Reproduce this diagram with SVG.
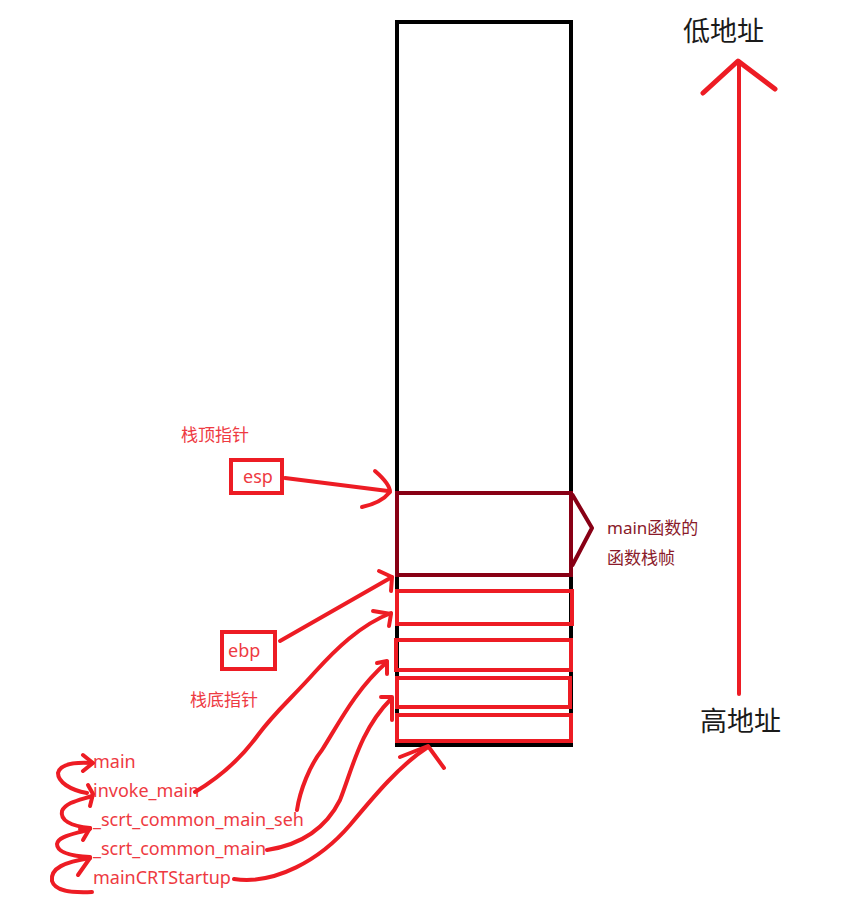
<svg xmlns="http://www.w3.org/2000/svg" width="861" height="904" viewBox="0 0 861 904">
<style>
.red{fill:none;stroke:#ed1c24;stroke-width:4;stroke-linecap:round;stroke-linejoin:round}
.rt{font-family:"Noto Sans","Noto Sans CJK SC",sans-serif;fill:#ee3a42}
.dt{font-family:"Noto Sans","Noto Sans CJK SC",sans-serif;fill:#8a1a2a;font-size:17px}
.bt{font-family:"Noto Sans CJK SC","Noto Sans",sans-serif;fill:#1a1a1a;font-size:27px}
</style>
<rect width="861" height="904" fill="#fff"/>
<g id="stack">
<rect x="397" y="22" width="174" height="723" fill="none" stroke="#000" stroke-width="4"/>
</g>
<g id="main-frame">
<rect x="397" y="493" width="174" height="82" fill="none" stroke="#880015" stroke-width="4"/>
<path d="M572,494 L592,528 L572,566" fill="none" stroke="#880015" stroke-width="4" stroke-linejoin="round"/>
<text class="dt" x="607" y="534">main函数的</text>
<text class="dt" x="607" y="564">函数栈帧</text>
</g>
<g id="frames">
<rect x="397" y="591" width="175" height="33" fill="none" stroke="#ed1c24" stroke-width="4"/>
<rect x="396" y="640" width="175" height="30" fill="none" stroke="#ed1c24" stroke-width="4"/>
<rect x="397" y="678" width="173" height="29" fill="none" stroke="#ed1c24" stroke-width="4"/>
<rect x="397" y="715" width="174" height="26" fill="none" stroke="#ed1c24" stroke-width="4"/>
</g>
<g id="esp">
<text class="rt" x="181" y="441" font-size="17">栈顶指针</text>
<rect x="231" y="460" width="51" height="33" fill="none" stroke="#ed1c24" stroke-width="4"/>
<text class="rt" x="243" y="483" font-size="18">esp</text>
</g>
<g id="ebp">
<rect x="222" y="632" width="53" height="37" fill="none" stroke="#ed1c24" stroke-width="4"/>
<text class="rt" x="228" y="657" font-size="18">ebp</text>
<text class="rt" x="190" y="706" font-size="17">栈底指针</text>
</g>
<g id="functions" class="rt" font-size="18">
<text x="93" y="768">main</text>
<text x="93" y="797">invoke_main</text>
<text x="93" y="826">_scrt_common_main_seh</text>
<text x="93" y="855">_scrt_common_main</text>
<text x="93" y="884">mainCRTStartup</text>
</g>
<g id="address">
<text class="bt" x="683" y="41">低地址</text>
<text class="bt" x="700" y="731">高地址</text>
</g>
<g id="connectors">
<path class="red" d="M739,694 L739,62"/>
<path class="red" style="stroke-width:5" d="M703,93 L738,61 L775,89"/>
<path class="red" d="M285,478 L388,491"/>
<path class="red" d="M375,471 Q390,484 390,492 Q381,503 362,507"/>
<path class="red" d="M280,641 L392,577"/>
<path class="red" d="M379,571 L392,577 L391,591"/>
<path class="red" d="M195,792 C215,780 240,760 258,735 C275,712 290,700 315,672 C335,650 360,625 391,613"/>
<path class="red" d="M373,611 L391,614 L389,626"/>
<path class="red" d="M297,810 C300,790 310,765 322,750 C338,725 355,690 387,662"/>
<path class="red" d="M377,663 L387,661 L387,674"/>
<path class="red" d="M267,850 C300,845 325,830 340,800 C352,770 360,730 391,699"/>
<path class="red" d="M381,697 L392,697 L392,720"/>
<path class="red" d="M234,879 C275,885 320,860 350,825 C375,795 400,765 428,747"/>
<path class="red" d="M400,757 L428,746 L444,768"/>
<path class="red" d="M87,793 C70,790 58,782 58,773 C60,764 75,762 92,763"/>
<path class="red" d="M83,755 L93,763 L83,771"/>
<path class="red" d="M90,828 C70,826 60,820 62,811 C66,802 80,800 92,796"/>
<path class="red" d="M88,785 L93,794 L90,806"/>
<path class="red" d="M90,857 C70,856 57,852 57,844 C58,836 75,834 90,829"/>
<path class="red" d="M80,829 L90,828 L83,840"/>
<path class="red" d="M92,892 C70,893 55,891 52,881 C50,868 65,862 90,858"/>
<path class="red" d="M80,857 L90,858 L78,875"/>
</g>
</svg>
